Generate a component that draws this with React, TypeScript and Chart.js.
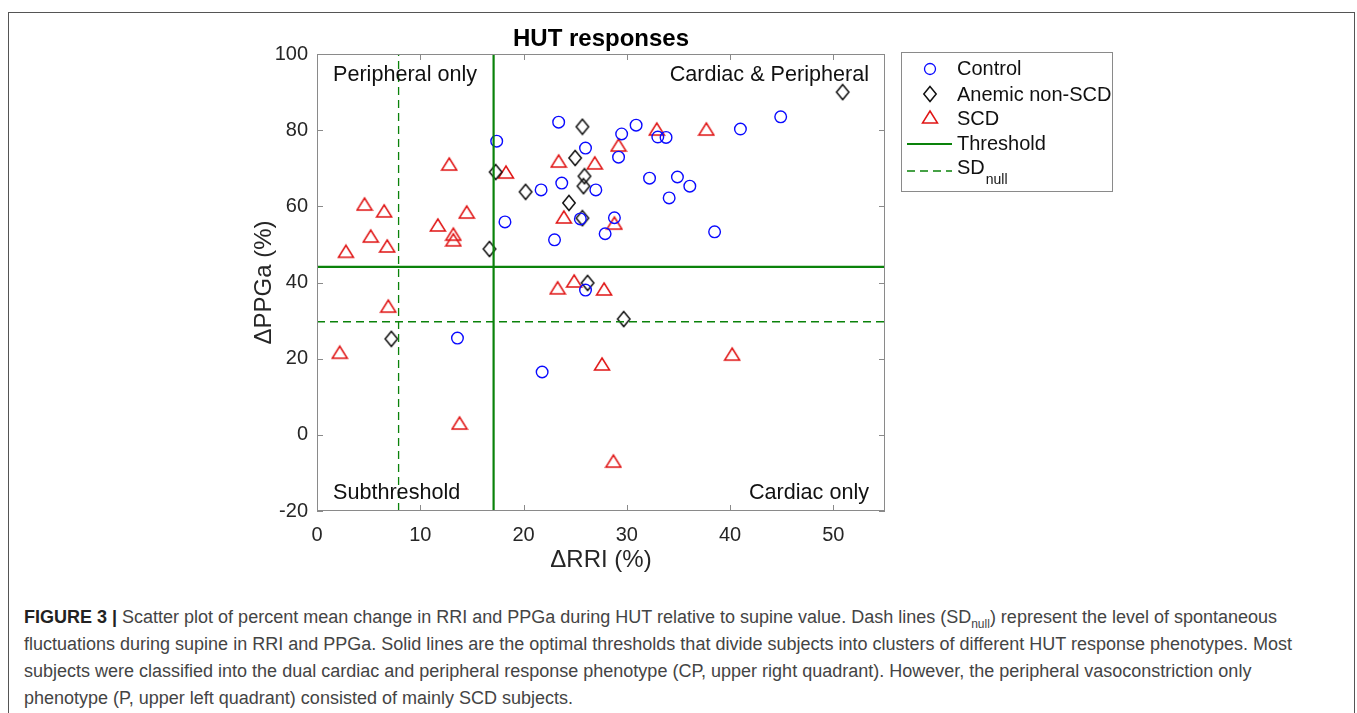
import React, { useEffect, useRef } from 'react';
import { Chart, registerables } from 'chart.js';

Chart.register(...registerables);

// ---------- data ----------
const controlX = [17.4, 23.4, 26.0, 21.7, 23.7, 27.0, 18.2, 23.0, 25.5, 27.9, 28.8, 29.5, 30.9, 29.2, 33.0, 33.8, 32.2, 34.9, 36.1, 34.1, 38.5, 41.0, 44.9, 26.0, 13.6, 21.8];
const controlY = [77.1, 82.1, 75.3, 64.3, 66.1, 64.3, 55.9, 51.2, 56.7, 52.8, 57.0, 79.0, 81.3, 72.9, 78.2, 78.1, 67.4, 67.7, 65.3, 62.2, 53.3, 80.3, 83.5, 38.0, 25.4, 16.5];

const anemicX = [25.7, 25.0, 17.3, 25.9, 25.8, 20.2, 24.4, 25.7, 16.7, 26.2, 7.2, 29.7, 50.9];
const anemicY = [80.9, 72.7, 69.0, 67.9, 65.3, 63.8, 60.9, 56.9, 48.8, 39.9, 25.2, 30.4, 90.0];

const scdX = [12.8, 18.3, 23.4, 26.9, 4.6, 6.5, 14.5, 11.7, 13.2, 13.2, 5.2, 6.8, 2.8, 23.9, 32.9, 37.7, 29.2, 28.8, 23.3, 24.9, 27.8, 6.9, 2.2, 13.8, 27.6, 40.2, 28.7];
const scdY = [71.1, 69.0, 71.9, 71.4, 60.6, 58.8, 58.5, 55.1, 52.7, 51.2, 52.2, 49.6, 48.2, 57.2, 80.3, 80.3, 76.1, 55.6, 38.6, 40.4, 38.3, 33.8, 21.7, 3.1, 18.6, 21.2, -6.9];

const thresholdX = 17.1;
const thresholdY = 44.1;
const sdNullX = 7.9;
const sdNullY = 29.7;

const xRange = [0, 55];
const yRange = [-20, 100];
const xTickValues = [0, 10, 20, 30, 40, 50];
const yTickValues = [-20, 0, 20, 40, 60, 80, 100];

const legendLabels = ['Control', 'Anemic non-SCD', 'SCD', 'Threshold', 'SD'];
const quadrantLabels = ['Peripheral only', 'Cardiac & Peripheral', 'Subthreshold', 'Cardiac only'];
const chartTitle = 'HUT responses';
const xTitle = '\u0394RRI (%)';
const yTitle = '\u0394PPGa (%)';

const BLUE = '#0a0aff';
const BLACK = '#111111';
const RED = '#e01515';
const GREEN = '#0a820a';
const FONT = '"Liberation Sans", Arial, Helvetica, sans-serif';

const zip = (xs: number[], ys: number[]) => xs.map((x, i) => ({ x, y: ys[i] }));

function makeTriangle(): HTMLCanvasElement {
  const c = document.createElement('canvas');
  c.width = 18; c.height = 16;
  const g = c.getContext('2d')!;
  g.strokeStyle = RED; g.lineWidth = 1.5; g.lineJoin = 'miter';
  g.beginPath();
  g.moveTo(9, 2); g.lineTo(16.5, 14); g.lineTo(1.5, 14); g.closePath();
  g.stroke();
  return c;
}

function makeDiamond(): HTMLCanvasElement {
  const c = document.createElement('canvas');
  c.width = 16; c.height = 18;
  const g = c.getContext('2d')!;
  g.strokeStyle = BLACK; g.lineWidth = 1.5;
  g.beginPath();
  g.moveTo(8, 1.5); g.lineTo(14.2, 9); g.lineTo(8, 16.5); g.lineTo(1.8, 9); g.closePath();
  g.stroke();
  return c;
}

export default function App() {
  const ref = useRef<HTMLCanvasElement | null>(null);

  useEffect(() => {
    if (!ref.current) return;
    const tri = makeTriangle();
    const dia = makeDiamond();

    const overlay = {
      id: 'matlabOverlay',
      afterDraw(chart: any) {
        const { ctx, chartArea: a, scales } = chart;
        const xs = scales.x, ys = scales.y;
        ctx.save();
        // axes box
        ctx.strokeStyle = '#8a8a8a';
        ctx.lineWidth = 1;
        ctx.strokeRect(a.left + 0.5, a.top + 0.5, a.right - a.left - 1, a.bottom - a.top - 1);
        // inward ticks
        ctx.beginPath();
        xTickValues.forEach((v) => {
          const px = Math.round(xs.getPixelForValue(v)) + 0.5;
          ctx.moveTo(px, a.bottom); ctx.lineTo(px, a.bottom - 6);
          ctx.moveTo(px, a.top); ctx.lineTo(px, a.top + 6);
        });
        yTickValues.forEach((v) => {
          const py = Math.round(ys.getPixelForValue(v)) + 0.5;
          ctx.moveTo(a.left, py); ctx.lineTo(a.left + 6, py);
          ctx.moveTo(a.right, py); ctx.lineTo(a.right - 6, py);
        });
        ctx.stroke();

        // title
        ctx.fillStyle = '#000';
        ctx.font = `bold 24px ${FONT}`;
        ctx.textAlign = 'center';
        ctx.textBaseline = 'middle';
        ctx.fillText(chartTitle, (a.left + a.right) / 2, a.top - 15);

        // quadrant labels
        ctx.font = `21.6px ${FONT}`;
        ctx.fillStyle = '#111';
        ctx.textAlign = 'left';
        ctx.fillText(quadrantLabels[0], a.left + 16, a.top + 21);
        ctx.fillText(quadrantLabels[2], a.left + 16, a.bottom - 18);
        ctx.textAlign = 'right';
        ctx.fillText(quadrantLabels[1], a.right - 16, a.top + 21);
        ctx.fillText(quadrantLabels[3], a.right - 16, a.bottom - 18);

        // legend
        const lx = a.right + 16, ly = a.top - 2, lw = 211, lh = 139;
        ctx.strokeStyle = '#8a8a8a';
        ctx.lineWidth = 1;
        ctx.strokeRect(lx + 0.5, ly + 0.5, lw, lh);
        const mx = lx + 29;
        const tx = lx + 56;
        const rows = [ly + 17, ly + 43, ly + 67, ly + 92, ly + 116];
        ctx.strokeStyle = BLUE; ctx.lineWidth = 1.3;
        ctx.beginPath(); ctx.arc(mx, rows[0], 5.5, 0, Math.PI * 2); ctx.stroke();
        ctx.drawImage(dia, mx - dia.width / 2, rows[1] - 1 - dia.height / 2);
        ctx.drawImage(tri, mx - tri.width / 2, rows[2] - 2 - tri.height / 2);
        ctx.strokeStyle = GREEN; ctx.lineWidth = 2;
        ctx.beginPath(); ctx.moveTo(lx + 6, rows[3]); ctx.lineTo(lx + 51, rows[3]); ctx.stroke();
        ctx.lineWidth = 1.3; ctx.setLineDash([8, 5]);
        ctx.beginPath(); ctx.moveTo(lx + 6, rows[4] + 3); ctx.lineTo(lx + 51, rows[4] + 3); ctx.stroke();
        ctx.setLineDash([]);
        ctx.fillStyle = '#111';
        ctx.textAlign = 'left';
        ctx.font = `20px ${FONT}`;
        for (let i = 0; i < 5; i++) ctx.fillText(legendLabels[i], tx, rows[i]);
        const sdW = ctx.measureText(legendLabels[4]).width;
        ctx.font = `14px ${FONT}`;
        ctx.fillText('null', tx + sdW + 1, rows[4] + 12);
        ctx.restore();
      },
    };

    const lineDs = (label: string, pts: { x: number; y: number }[], dashed: boolean) => ({
      type: 'line' as const,
      label,
      data: pts,
      showLine: true,
      borderColor: GREEN,
      borderWidth: dashed ? 1.3 : 2.2,
      borderDash: dashed ? [8, 5] : [],
      pointRadius: 0,
      fill: false,
    });

    const chart = new Chart(ref.current, {
      type: 'scatter',
      data: {
        datasets: [
          lineDs('SDnull x', [{ x: sdNullX, y: yRange[0] }, { x: sdNullX, y: yRange[1] }], true),
          lineDs('SDnull y', [{ x: xRange[0], y: sdNullY }, { x: xRange[1], y: sdNullY }], true),
          lineDs('Threshold x', [{ x: thresholdX, y: yRange[0] }, { x: thresholdX, y: yRange[1] }], false),
          lineDs('Threshold y', [{ x: xRange[0], y: thresholdY }, { x: xRange[1], y: thresholdY }], false),
          {
            label: 'Control',
            data: zip(controlX, controlY),
            pointStyle: 'circle',
            pointRadius: 5.8,
            borderColor: BLUE,
            backgroundColor: 'rgba(0,0,0,0)',
            borderWidth: 1.4,
          },
          {
            label: 'Anemic non-SCD',
            data: zip(anemicX, anemicY),
            pointStyle: dia as any,
            pointRadius: 7,
            borderColor: BLACK,
            backgroundColor: 'rgba(0,0,0,0)',
          },
          {
            label: 'SCD',
            data: zip(scdX, scdY),
            pointStyle: tri as any,
            pointRadius: 7,
            borderColor: RED,
            backgroundColor: 'rgba(0,0,0,0)',
          },
        ] as any,
      },
      options: {
        responsive: false,
        animation: false,
        devicePixelRatio: 1,
        layout: { padding: { left: 241, right: 469, top: 41, bottom: 18 } },
        plugins: {
          legend: { display: false },
          tooltip: { enabled: false },
          title: { display: false },
        },
        scales: {
          x: {
            type: 'linear',
            min: xRange[0],
            max: xRange[1],
            grid: { display: false, drawTicks: false },
            border: { display: false },
            afterBuildTicks: (s: any) => { s.ticks = xTickValues.map((v) => ({ value: v })); },
            afterFit: (s: any) => { s.height = 64; },
            ticks: { color: '#262626', padding: 12, font: { family: FONT, size: 20 }, maxRotation: 0, autoSkip: false },
            title: { display: true, text: xTitle, color: '#262626', padding: 0, font: { family: FONT, size: 24 } },
          },
          y: {
            type: 'linear',
            min: yRange[0],
            max: yRange[1],
            grid: { display: false, drawTicks: false },
            border: { display: false },
            afterBuildTicks: (s: any) => { s.ticks = yTickValues.map((v) => ({ value: v })); },
            afterFit: (s: any) => { s.width = 67; },
            ticks: { color: '#262626', padding: 9, font: { family: FONT, size: 20 }, autoSkip: false },
            title: { display: true, text: yTitle, color: '#262626', padding: 0, font: { family: FONT, size: 24 } },
          },
        },
      } as any,
      plugins: [overlay],
    });
    return () => chart.destroy();
  }, []);

  const capStyle: React.CSSProperties = { whiteSpace: 'nowrap', height: 27 };
  return (
    <div
      style={{
        position: 'fixed',
        left: 8,
        top: 12,
        width: 1347,
        height: 760,
        boxSizing: 'border-box',
        border: '1px solid #555',
        background: '#fff',
      }}
    >
      <canvas
        ref={ref}
        width={1345}
        height={580}
        style={{ position: 'absolute', left: 0, top: 0, width: 1345, height: 580, display: 'block' }}
      />
      <div
        style={{
          position: 'absolute',
          left: 15,
          top: 591,
          fontFamily: FONT,
          fontSize: 18,
          lineHeight: '27px',
          color: '#444',
        }}
      >
        <div style={capStyle}>
          <b style={{ color: '#222' }}>FIGURE 3 |</b> Scatter plot of percent mean change in RRI and PPGa during HUT relative to supine value. Dash lines (SD<sub style={{ fontSize: 12, lineHeight: 0 }}>null</sub>) represent the level of spontaneous
        </div>
        <div style={capStyle}>
          fluctuations during supine in RRI and PPGa. Solid lines are the optimal thresholds that divide subjects into clusters of different HUT response phenotypes. Most
        </div>
        <div style={capStyle}>
          subjects were classified into the dual cardiac and peripheral response phenotype (CP, upper right quadrant). However, the peripheral vasoconstriction only
        </div>
        <div style={capStyle}>phenotype (P, upper left quadrant) consisted of mainly SCD subjects.</div>
      </div>
    </div>
  );
}
